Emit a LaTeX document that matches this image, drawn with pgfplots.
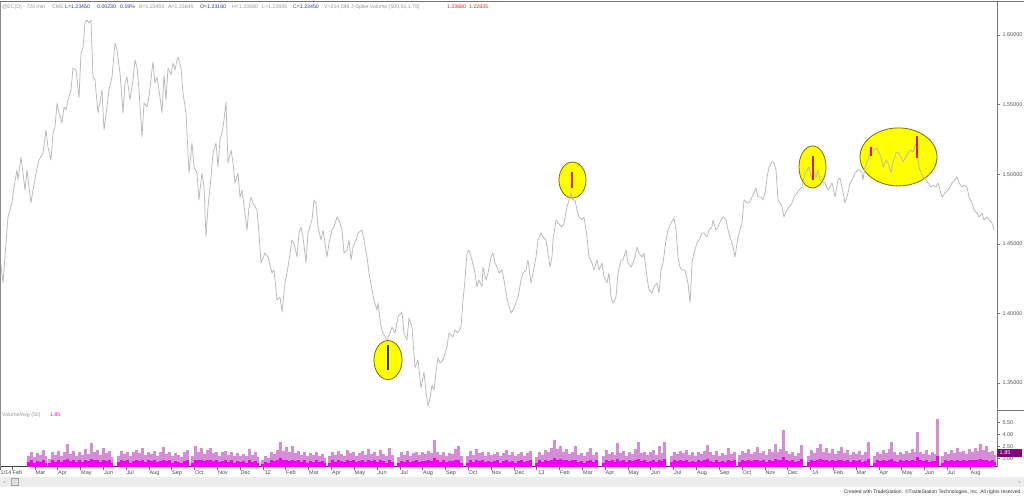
\documentclass[border=0pt]{standalone}
\usepackage{pgfplots}
\usepackage{pgfplotstable}
\pgfplotsset{compat=1.18}
\usepackage{fontspec}
\setmainfont{Liberation Sans}
\definecolor{linegray}{RGB}{185,185,185}
\definecolor{axgray}{RGB}{120,120,120}
\definecolor{txtgray}{RGB}{150,150,150}
\definecolor{txtblue}{RGB}{50,50,160}
\definecolor{txtred}{RGB}{220,40,40}
\definecolor{olivedk}{RGB}{120,110,0}
\definecolor{spikeyel}{RGB}{255,255,0}
\definecolor{spikered}{RGB}{225,30,10}
\definecolor{vollight}{RGB}{215,140,215}
\definecolor{voldark}{RGB}{240,0,240}
\definecolor{volbox}{RGB}{128,0,128}
\definecolor{scrollgray}{RGB}{236,236,236}

\pgfplotsset{pricebox/.style={
  at={(0pt,85pt)}, anchor=south west,
  scale only axis, width=997pt, height=408pt,
  xmin=0, xmax=1994, ymin=1.3306, ymax=1.6237}}

\pgfplotstableread[row sep=\\]{
x v d\\
56 1.4 0.6\\ 62 1.9 0.8\\ 68 1.2 0.5\\ 74 1.7 0.7\\ 80 1.5 0.6\\ 86 2.1 0.9\\ 90 1.3 0.5\\
98 1.0 0.5\\ 104 1.8 0.8\\ 110 1.5 0.6\\ 116 2.0 0.9\\ 122 1.3 0.6\\ 128 1.9 0.8\\ 134 2.8 1.0\\ 140 1.6 0.7\\ 146 2.0 0.8\\ 152 1.4 0.6\\ 158 1.9 0.8\\ 164 1.5 0.6\\ 170 2.2 0.9\\ 176 1.6 0.7\\ 182 3.0 1.0\\ 188 1.8 0.8\\ 194 2.1 0.9\\ 200 1.5 0.6\\ 206 2.4 0.9\\ 212 1.7 0.7\\ 218 2.0 0.8\\ 222 1.2 0.5\\
236 1.4 0.6\\ 242 2.0 0.8\\ 248 1.6 0.7\\ 254 1.9 0.8\\ 260 1.3 0.5\\ 266 1.8 0.7\\ 272 2.1 0.9\\ 278 1.7 0.7\\ 284 2.3 0.9\\ 290 1.5 0.6\\ 296 1.9 0.8\\ 302 1.6 0.7\\ 308 2.0 0.8\\ 314 1.4 0.6\\ 320 1.8 0.7\\ 326 2.5 0.9\\ 332 1.6 0.7\\ 338 1.9 0.8\\ 344 1.3 0.5\\ 350 1.7 0.7\\ 356 1.5 0.6\\ 362 1.2 0.5\\ 368 1.8 0.7\\ 374 2.1 0.8\\
384 1.3 0.5\\ 390 2.6 0.9\\ 396 1.9 0.8\\ 402 2.3 0.9\\ 408 1.6 0.7\\ 414 2.1 0.8\\ 420 2.4 0.9\\ 426 1.7 0.7\\ 432 1.9 0.8\\ 438 1.4 0.6\\ 444 1.8 0.7\\ 450 2.0 0.8\\ 456 1.5 0.6\\ 462 1.9 0.8\\ 468 1.3 0.5\\ 474 1.7 0.7\\ 480 1.4 0.6\\ 486 1.6 0.7\\ 492 1.3 0.5\\ 498 2.2 0.8\\ 504 1.5 0.6\\ 510 1.8 0.7\\ 514 1.2 0.5\\
524 0.8 0.4\\ 530 1.3 0.6\\ 536 1.1 0.5\\ 542 1.9 0.8\\ 548 1.6 0.7\\ 554 2.1 0.8\\ 560 3.1 1.1\\ 566 2.0 0.8\\ 572 2.5 0.9\\ 578 1.8 0.7\\ 584 2.6 0.9\\ 590 1.7 0.7\\ 596 2.0 0.8\\ 602 1.5 0.6\\ 608 1.9 0.8\\ 614 1.3 0.5\\ 620 1.7 0.7\\ 626 1.5 0.6\\ 632 1.9 0.8\\ 638 1.4 0.6\\ 644 1.6 0.7\\ 648 1.1 0.5\\
658 1.3 0.5\\ 664 1.9 0.8\\ 670 1.5 0.6\\ 676 2.0 0.8\\ 682 1.6 0.7\\ 688 1.4 0.6\\ 694 2.1 0.9\\ 700 1.7 0.7\\ 706 1.9 0.8\\ 712 1.4 0.6\\ 718 1.7 0.7\\ 724 2.0 0.8\\ 730 1.5 0.6\\ 736 2.2 0.9\\ 742 1.6 0.7\\ 748 1.9 0.8\\ 754 1.4 0.6\\ 760 2.1 0.8\\ 766 1.6 0.7\\ 772 1.3 0.5\\ 778 2.4 0.9\\ 784 1.5 0.6\\
796 1.2 0.5\\ 802 1.8 0.7\\ 808 1.5 0.6\\ 814 2.0 0.8\\ 820 1.4 0.6\\ 826 1.7 0.7\\ 832 1.9 0.8\\ 838 1.5 0.6\\ 844 1.8 0.7\\ 850 1.6 0.7\\ 856 2.0 0.8\\ 862 1.7 0.7\\ 868 3.4 1.1\\ 874 1.8 0.8\\ 880 1.5 0.6\\ 886 1.9 0.8\\ 892 1.4 0.6\\ 898 1.7 0.7\\ 904 1.6 0.7\\ 910 2.2 0.9\\ 916 2.6 0.9\\ 922 1.3 0.5\\
934 1.3 0.5\\ 940 2.0 0.8\\ 946 1.5 0.6\\ 952 2.2 0.9\\ 958 1.7 0.7\\ 964 1.9 0.8\\ 970 1.4 0.6\\ 976 1.8 0.7\\ 982 1.5 0.6\\ 988 1.6 0.7\\ 994 1.9 0.8\\ 1000 1.3 0.5\\ 1006 1.7 0.7\\ 1012 2.1 0.8\\ 1018 1.5 0.6\\ 1024 1.8 0.7\\ 1030 1.3 0.5\\ 1036 1.6 0.7\\ 1042 1.9 0.8\\ 1048 1.4 0.6\\ 1054 1.7 0.7\\ 1060 2.0 0.8\\
1072 1.2 0.5\\ 1078 1.9 0.8\\ 1084 1.5 0.6\\ 1090 2.1 0.8\\ 1096 1.8 0.7\\ 1102 2.4 0.9\\ 1108 3.3 1.1\\ 1114 2.2 0.9\\ 1120 2.6 1.0\\ 1126 1.9 0.8\\ 1132 2.2 0.9\\ 1138 1.6 0.7\\ 1144 1.9 0.8\\ 1150 2.6 0.9\\ 1156 1.5 0.6\\ 1162 1.7 0.7\\ 1168 1.3 0.5\\ 1174 1.8 0.7\\ 1180 2.4 0.9\\ 1186 1.5 0.6\\ 1192 1.9 0.8\\
1206 1.3 0.5\\ 1212 2.1 0.8\\ 1218 1.6 0.7\\ 1224 1.9 0.8\\ 1230 1.5 0.6\\ 1234 3.0 1.0\\ 1240 1.7 0.7\\ 1246 2.0 0.8\\ 1252 1.4 0.6\\ 1258 1.9 0.8\\ 1264 1.6 0.7\\ 1270 2.2 0.9\\ 1276 3.1 1.0\\ 1282 1.7 0.7\\ 1288 1.9 0.8\\ 1294 1.5 0.6\\ 1300 1.8 0.7\\ 1306 2.1 0.8\\ 1312 1.5 0.6\\ 1318 2.6 0.9\\ 1324 1.7 0.7\\ 1328 3.1 1.0\\
1342 1.4 0.6\\ 1348 1.9 0.8\\ 1354 1.6 0.7\\ 1360 2.0 0.8\\ 1366 1.7 0.7\\ 1372 2.1 0.8\\ 1378 1.5 0.6\\ 1384 1.8 0.7\\ 1390 1.4 0.6\\ 1396 1.9 0.8\\ 1402 1.6 0.7\\ 1408 2.0 0.8\\ 1414 2.7 1.0\\ 1420 1.8 0.7\\ 1426 1.5 0.6\\ 1432 2.0 0.8\\ 1438 1.4 0.6\\ 1444 1.7 0.7\\ 1450 1.5 0.6\\ 1456 2.3 0.9\\ 1462 1.6 0.7\\ 1468 1.9 0.8\\
1478 1.5 0.6\\ 1484 2.0 0.8\\ 1490 1.7 0.7\\ 1496 2.2 0.9\\ 1502 1.6 0.7\\ 1508 1.9 0.8\\ 1514 2.5 0.9\\ 1520 1.7 0.7\\ 1526 2.0 0.8\\ 1532 1.5 0.6\\ 1538 2.2 0.9\\ 1544 1.8 0.7\\ 1550 2.9 1.0\\ 1556 1.9 0.8\\ 1560 2.2 0.9\\ 1566 4.6 1.2\\ 1572 2.0 0.8\\ 1578 1.6 0.7\\ 1584 1.9 0.8\\ 1590 1.4 0.6\\ 1596 1.7 0.7\\ 1602 2.7 1.0\\
1616 1.4 0.6\\ 1622 2.1 0.8\\ 1628 1.7 0.7\\ 1634 2.3 0.9\\ 1640 2.8 1.0\\ 1646 1.9 0.8\\ 1652 2.4 0.9\\ 1658 1.7 0.7\\ 1664 2.2 0.9\\ 1670 1.6 0.7\\ 1676 2.0 0.8\\ 1682 2.5 0.9\\ 1688 1.7 0.7\\ 1694 2.1 0.8\\ 1700 1.5 0.6\\ 1706 1.9 0.8\\ 1712 1.6 0.7\\ 1718 2.0 0.8\\ 1724 1.5 0.6\\ 1730 1.8 0.7\\ 1736 3.1 1.0\\
1748 1.3 0.5\\ 1754 1.9 0.8\\ 1760 1.6 0.7\\ 1766 2.1 0.8\\ 1772 1.7 0.7\\ 1778 2.2 0.9\\ 1782 3.1 1.0\\ 1788 1.8 0.7\\ 1794 1.5 0.6\\ 1800 1.9 0.8\\ 1806 1.6 0.7\\ 1812 2.0 0.8\\ 1818 1.7 0.7\\ 1824 2.2 0.9\\ 1830 1.8 0.7\\ 1834 4.3 1.2\\ 1840 1.9 0.8\\ 1846 1.6 0.7\\ 1852 2.1 0.8\\ 1858 1.5 0.6\\ 1864 1.8 0.7\\ 1870 1.6 0.7\\ 1874 6.0 1.3\\
1884 1.3 0.5\\ 1890 1.9 0.8\\ 1896 1.6 0.7\\ 1902 2.1 0.8\\ 1908 1.7 0.7\\ 1914 2.3 0.9\\ 1920 1.8 0.7\\ 1926 2.0 0.8\\ 1932 1.6 0.7\\ 1938 2.2 0.9\\ 1944 1.9 0.8\\ 1950 2.4 0.9\\ 1956 2.0 0.8\\ 1960 2.8 1.0\\ 1966 2.1 0.8\\ 1972 2.6 0.9\\ 1978 1.8 0.7\\ 1984 2.0 0.8\\ 1988 1.5 0.6\\
}\voltab

\begin{document}
\begin{tikzpicture}[x=1pt,y=1pt]
\useasboundingbox (0,0) rectangle (1024,495);
\fill[white] (0,0) rectangle (1024,495);

% ---------------- highlight ellipses (drawn underneath) ----------------
\begin{axis}[pricebox, hide axis]
\addplot[only marks, mark=*, mark size=19.5pt, mark options={xscale=0.72, fill=spikeyel, draw=olivedk, line width=0.8pt}] coordinates {(776,1.3665)};
\addplot[only marks, mark=*, mark size=18pt, mark options={xscale=0.75, fill=spikeyel, draw=olivedk, line width=0.8pt}] coordinates {(1145,1.4958)};
\addplot[only marks, mark=*, mark size=21pt, mark options={xscale=0.643, fill=spikeyel, draw=olivedk, line width=0.8pt}] coordinates {(1625,1.5052)};
\addplot[only marks, mark=*, mark size=29pt, mark options={xscale=1.328, fill=spikeyel, draw=olivedk, line width=0.8pt}] coordinates {(1797,1.5124)};
\end{axis}

% ---------------- price panel ----------------
\begin{axis}[
  pricebox,
  axis x line=none, axis y line*=right,
  y axis line style={draw=axgray, line width=0.8pt},
  ytick={1.35,1.40,1.45,1.50,1.55,1.60},
  tick align=outside, major tick length=3pt,
  ytick style={draw=axgray, line width=0.5pt},
  scaled y ticks=false,
  yticklabel style={font=\fontsize{5.5}{6}\selectfont, text=black!65,
    /pgf/number format/fixed, /pgf/number format/fixed zerofill,
    /pgf/number format/precision=5, /pgf/number format/assume math mode=true,
    xshift=-1pt},
]
\addplot[linegray, line width=0.75pt, line join=round] coordinates {
(0,1.4405) (6,1.4218) (14,1.4599) (16,1.4693) (24,1.4793) (28,1.4908) (34,1.5030) (36,1.4958) (42,1.5124) (46,1.5009) (50,1.4886) (54,1.5030) (62,1.4793) (66,1.4886) (72,1.5009) (78,1.5102) (86,1.5152) (92,1.5318) (96,1.5195) (102,1.5102) (106,1.5296) (110,1.5339) (114,1.5511) (118,1.5440) (124,1.5368) (128,1.5483) (132,1.5461) (136,1.5533) (142,1.5605) (146,1.5763) (152,1.5749) (158,1.5547) (162,1.5871) (166,1.5906) (170,1.6086) (174,1.6108) (178,1.6086) (182,1.6108) (186,1.5698) (190,1.5677) (196,1.5440) (204,1.5605) (208,1.5318) (214,1.5483) (218,1.5605) (224,1.5698) (230,1.5942) (234,1.5892) (240,1.5727) (246,1.5440) (250,1.5655) (254,1.5698) (260,1.5533) (266,1.5677) (270,1.5820) (274,1.5770) (278,1.5605) (284,1.5267) (288,1.5511) (294,1.5483) (298,1.5555) (304,1.5749) (306,1.5806) (310,1.5655) (314,1.5698) (318,1.5605) (324,1.5440) (328,1.5713) (332,1.5533) (336,1.5763) (342,1.5713) (346,1.5799) (350,1.5749) (354,1.5820) (356,1.5842) (362,1.5763) (366,1.5583) (372,1.5440) (374,1.5296) (378,1.5009) (384,1.5224) (388,1.5052) (394,1.5009) (398,1.4815)
(400,1.4886) (404,1.5009) (408,1.4908) (412,1.4549) (416,1.4764) (422,1.4980) (426,1.5152) (432,1.5224) (436,1.5052) (440,1.5246) (444,1.5296) (448,1.5389) (452,1.5519) (454,1.5296) (456,1.5080) (462,1.5174) (466,1.5080) (470,1.4937) (476,1.5009) (480,1.4836) (484,1.4886) (490,1.4721) (494,1.4599) (498,1.4764) (502,1.4836) (506,1.4793) (514,1.4743) (518,1.4578) (522,1.4362) (530,1.4434) (536,1.4405) (544,1.4290) (548,1.4312) (554,1.4096) (560,1.4118) (564,1.4010) (570,1.4218) (576,1.4333) (584,1.4527) (588,1.4506) (594,1.4405) (598,1.4578) (602,1.4621) (606,1.4549) (612,1.4362) (616,1.4578) (624,1.4671) (628,1.4815) (632,1.4793) (636,1.4621) (642,1.4527) (646,1.4599) (654,1.4405) (658,1.4506) (664,1.4599) (668,1.4621) (674,1.4693) (678,1.4671) (684,1.4599) (688,1.4434) (694,1.4455) (698,1.4527) (702,1.4384) (706,1.4477) (712,1.4527) (716,1.4578) (724,1.4599) (728,1.4527) (734,1.4405) (738,1.4290) (744,1.4168) (748,1.4096) (754,1.4024) (756,1.4075) (762,1.3902) (766,1.3859) (774,1.3809) (780,1.3859) (784,1.3902) (790,1.3859) (796,1.3974)
(804,1.4010) (808,1.3859) (814,1.3809) (818,1.3967) (824,1.3902) (830,1.3608) (836,1.3665) (842,1.3464) (848,1.3579) (852,1.3435) (856,1.3335) (860,1.3392) (864,1.3486) (868,1.3450) (872,1.3579) (876,1.3679) (880,1.3644) (886,1.3665) (894,1.3759) (898,1.3859) (906,1.3830) (910,1.3881) (916,1.3859) (922,1.3902) (926,1.4096) (930,1.4240) (934,1.4434) (938,1.4455) (944,1.4384) (950,1.4290) (954,1.4190) (958,1.4240) (964,1.4190) (966,1.4333) (972,1.4240) (976,1.4290) (982,1.4405) (986,1.4434) (990,1.4362) (994,1.4333) (998,1.4290) (1004,1.4312) (1008,1.4240) (1012,1.4146) (1016,1.4075) (1022,1.4003) (1026,1.4024) (1032,1.4075) (1036,1.4118) (1042,1.4240) (1046,1.4290) (1052,1.4312) (1056,1.4384) (1062,1.4218) (1066,1.4290) (1072,1.4405) (1076,1.4527) (1082,1.4578) (1086,1.4549) (1092,1.4527) (1096,1.4434) (1100,1.4333) (1104,1.4405) (1106,1.4527) (1112,1.4671) (1116,1.4649) (1124,1.4621) (1128,1.4649) (1134,1.4764) (1138,1.4815) (1142,1.4865) (1146,1.4815) (1150,1.4815) (1154,1.4743) (1158,1.4693) (1164,1.4671) (1168,1.4693) (1174,1.4549) (1178,1.4405) (1184,1.4362) (1188,1.4312) (1194,1.4384) (1198,1.4312)
(1204,1.4362) (1208,1.4261) (1214,1.4218) (1218,1.4290) (1222,1.4118) (1226,1.4075) (1232,1.4118) (1236,1.4290) (1242,1.4384) (1246,1.4384) (1252,1.4455) (1256,1.4362) (1262,1.4333) (1266,1.4362) (1270,1.4405) (1274,1.4477) (1278,1.4434) (1284,1.4405) (1288,1.4434) (1294,1.4261) (1298,1.4168) (1304,1.4146) (1308,1.4190) (1314,1.4218) (1318,1.4146) (1322,1.4312) (1326,1.4362) (1332,1.4527) (1336,1.4599) (1342,1.4649) (1348,1.4685) (1352,1.4599) (1356,1.4405) (1360,1.4333) (1364,1.4312) (1370,1.4312) (1376,1.4218) (1380,1.4075) (1384,1.4362) (1388,1.4434) (1394,1.4506) (1398,1.4527) (1404,1.4578) (1408,1.4578) (1414,1.4549) (1418,1.4599) (1424,1.4621) (1426,1.4671) (1432,1.4599) (1436,1.4621) (1442,1.4671) (1446,1.4693) (1452,1.4671) (1456,1.4599) (1462,1.4527) (1466,1.4477) (1470,1.4405) (1476,1.4549) (1480,1.4599) (1484,1.4649) (1488,1.4815) (1494,1.4793) (1498,1.4793) (1504,1.4836) (1508,1.4865) (1512,1.4901) (1516,1.4836) (1522,1.4836) (1526,1.4815) (1530,1.4865) (1534,1.4973) (1538,1.5052) (1544,1.5088) (1548,1.5080) (1552,1.5030) (1556,1.4815) (1560,1.4793) (1564,1.4764) (1568,1.4693) (1574,1.4743) (1578,1.4764) (1584,1.4793) (1588,1.4836) (1594,1.4865) (1598,1.4886)
(1604,1.4908) (1608,1.4980) (1614,1.5030) (1618,1.5052) (1624,1.4958) (1626,1.5030) (1632,1.4980) (1636,1.5030) (1640,1.4958) (1644,1.4944) (1650,1.4937) (1656,1.4886) (1660,1.4908) (1664,1.4937) (1670,1.4836) (1676,1.4958) (1680,1.4973) (1684,1.4908) (1690,1.4793) (1696,1.4865) (1700,1.4937) (1704,1.4958) (1710,1.5009) (1716,1.5030) (1720,1.5030) (1724,1.5009) (1726,1.4958) (1730,1.5052) (1736,1.5102) (1740,1.5152) (1744,1.5195) (1748,1.5174) (1754,1.5188) (1758,1.5152) (1762,1.5124) (1766,1.5052) (1772,1.5102) (1776,1.5080) (1782,1.5009) (1786,1.5080) (1792,1.5152) (1796,1.5159) (1802,1.5124) (1806,1.5088) (1812,1.5124) (1816,1.5152) (1822,1.5174) (1826,1.5159) (1832,1.5224) (1836,1.5124) (1838,1.5052) (1842,1.5009) (1846,1.4980) (1852,1.4958) (1856,1.4937) (1862,1.4908) (1866,1.4922) (1872,1.4908) (1876,1.4937) (1880,1.4886) (1884,1.4836) (1890,1.4865) (1896,1.4886) (1900,1.4908) (1904,1.4937) (1910,1.4958) (1914,1.4980) (1918,1.4937) (1924,1.4908) (1928,1.4922) (1934,1.4908) (1938,1.4836) (1944,1.4793) (1948,1.4743) (1954,1.4721) (1958,1.4693) (1964,1.4721) (1968,1.4671) (1974,1.4693) (1978,1.4671) (1984,1.4649) (1988,1.4599)
};
% spike bars
\addplot[black!80, line width=2.4pt] coordinates {(776,1.3773) (776,1.3593)};
\addplot[spikered, line width=2.4pt] coordinates {(1144,1.5016) (1144,1.4901)};
\addplot[spikered, line width=2.4pt] coordinates {(1626,1.5131) (1626,1.4958)};
\addplot[spikered, line width=2.4pt] coordinates {(1742,1.5195) (1742,1.5131)};
\addplot[spikered, line width=2.4pt] coordinates {(1834,1.5274) (1834,1.5116)};
\end{axis}

% ---------------- volume panel ----------------
\begin{axis}[
  at={(0pt,28.3pt)}, anchor=south west,
  scale only axis, width=997pt, height=56.7pt,
  xmin=0, xmax=1994, ymin=0, ymax=7.09,
  axis x line*=bottom, axis y line*=right,
  x axis line style={draw=black!75, line width=0.7pt},
  y axis line style={draw=axgray, line width=0.8pt},
  tick align=outside, major tick length=3pt,
  tick style={draw=black!60, line width=0.5pt},
  ytick={1,2.5,4,5.5},
  yticklabel style={font=\fontsize{5.5}{6}\selectfont, text=black!65,
    /pgf/number format/fixed, /pgf/number format/fixed zerofill,
    /pgf/number format/precision=2, /pgf/number format/assume math mode=true,
    xshift=-1pt},
  xtick={0,24,70,115,161,207,252,298,343,389,435,480,526,571,617,663,708,754,800,845,891,936,982,1028,1073,1119,1165,1210,1256,1301,1347,1393,1438,1484,1530,1575,1621,1666,1712,1758,1803,1849,1894,1940},
  xticklabels={1/14,Feb,Mar,Apr,May,Jun,Jul,Aug,Sep,Oct,Nov,Dec,{'12},Feb,Mar,Apr,May,Jun,Jul,Aug,Sep,Oct,Nov,Dec,{'13},Feb,Mar,Apr,May,Jun,Jul,Aug,Sep,Oct,Nov,Dec,{'14},Feb,Mar,Apr,May,Jun,Jul,Aug},
  xticklabel style={font=\fontsize{5.5}{6}\selectfont, text=black!70, anchor=north west, xshift=-0.5pt, inner sep=1pt},
]
\addplot[ycomb, vollight, line width=3pt] table[x=x, y=v] {\voltab};
\addplot[ycomb, voldark, line width=3pt] table[x=x, y=d] {\voltab};
\end{axis}

% ---------------- frame and furniture ----------------
\draw[black!55, line width=1.2pt] (0,493.4) -- (1024,493.4);
\draw[black!45, line width=0.8pt] (0.4,493) -- (0.4,28.3);
\draw[axgray, line width=0.8pt] (997,85) -- (1024,85);
\fill[volbox] (997.4,38.5) rectangle (1022,46.5);
\node[font=\fontsize{5.5}{6}\selectfont, text=white, anchor=west, inner sep=0pt] at (999.5,42.5) {1.85};

% header
\begin{scope}[font=\fontsize{5.2}{6}\selectfont, every node/.style={anchor=base west, inner sep=0pt}]
\node[text=txtgray] at (2,486.5) {@EC(D) - 720 min};
\node[text=txtgray] at (52,486.5) {CME};
\node[text=txtblue] at (65,486.5) {L=1.23450};
\node[text=txtblue] at (97,486.5) {0.00230};
\node[text=txtblue] at (120,486.5) {0.19\%};
\node[text=txtgray] at (139,486.5) {B=1.23455};
\node[text=txtgray] at (168,486.5) {A=1.23645};
\node[text=txtblue] at (200,486.5) {O=1.23160};
\node[text=txtgray] at (232,486.5) {H=1.23680};
\node[text=txtgray] at (262,486.5) {L=1.22835};
\node[text=txtblue] at (293,486.5) {C=1.23450};
\node[text=txtgray] at (324,486.5) {V=214,596};
\node[text=txtgray] at (351,486.5) {J-Spike Volume (500,50,1.75)};
\node[text=txtred] at (447,486.5) {1.23680};
\node[text=txtred] at (469,486.5) {1.22835};
\node[text=txtgray] at (2,78) {Volume/Avg (50)};
\node[text=voldark] at (50,78) {1.85};
\end{scope}

% scrollbar
\fill[scrollgray] (0,8) rectangle (1024,18);
\draw[black!35, fill=black!12, line width=0.4pt] (11,9.5) rectangle (18,16.5);
\node[font=\fontsize{4}{4}\selectfont, text=black!60, inner sep=0pt] at (4.5,13) {<};
\node[font=\fontsize{4}{4}\selectfont, text=black!60, inner sep=0pt] at (1019.5,13) {>};
\node[font=\fontsize{5}{5}\selectfont, text=black!80, anchor=base east, inner sep=0pt] at (1022,2) {Created with TradeStation. \textcopyright TradeStation Technologies, Inc. All rights reserved.};
\end{tikzpicture}
\end{document}
